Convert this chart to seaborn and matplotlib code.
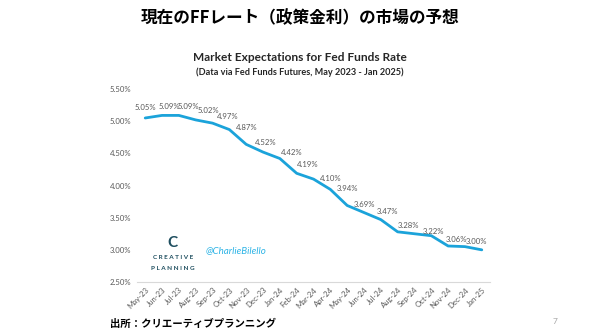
import matplotlib
matplotlib.use("Agg")
import matplotlib.pyplot as plt
import seaborn as sns
import pandas as pd

months = ["May-23", "Jun-23", "Jul-23", "Aug-23", "Sep-23", "Oct-23", "Nov-23",
          "Dec-23", "Jan-24", "Feb-24", "Mar-24", "Apr-24", "May-24", "Jun-24",
          "Jul-24", "Aug-24", "Sep-24", "Oct-24", "Nov-24", "Dec-24", "Jan-25"]
rates = [5.05, 5.09, 5.09, 5.02, 4.97, 4.87, 4.64,
         4.52, 4.42, 4.19, 4.10, 3.94, 3.69, 3.58,
         3.47, 3.28, 3.25, 3.22, 3.06, 3.05, 3.00]
labeled = [True, True, True, True, True, True, False,
           True, True, True, True, True, True, False,
           True, True, False, True, True, False, True]
yticks = [2.5, 3.0, 3.5, 4.0, 4.5, 5.0, 5.5]

page_title = "現在のFFレート（政策金利）の市場の予想"
chart_title = "Market Expectations for Fed Funds Rate"
chart_sub = "(Data via Fed Funds Futures, May 2023 - Jan 2025)"
source = "出所：クリエーティブプランニング"

# data-label placement (pixel offsets from each point, as in the reference)
label_dx = [0, 7, 10, 13, 15, 17, 0, 3, 12, 11, 17, 17, 17, 0, 7, 11, 0, 2, 8, 0, -5]
label_dy = [9, 8, 8, 8, 6, 1, 0, 9, 5, 8, 0, 0, 0, 0, 7, 5, 0, 3, 5, 0, 7]

df = pd.DataFrame({"month": months, "rate": rates})

sns.set_theme(style="white")
plt.rcParams["font.family"] = ["Lato", "Noto Sans CJK JP", "DejaVu Sans"]

fig = plt.figure(figsize=(6.0, 3.31), dpi=100)
ax = fig.add_axes([0.228, 0.148, 0.589, 0.583])

line_color = "#1BA3DA"
gray = "#595959"
sns.lineplot(data=df, x="month", y="rate", ax=ax, color=line_color, linewidth=2.0, sort=False)

for i, (v, show) in enumerate(zip(rates, labeled)):
    if show:
        ax.annotate(f"{v:.2f}%", (i, v), xytext=(label_dx[i], label_dy[i] + 1),
                    textcoords="offset pixels", ha="center", va="center",
                    fontsize=5.6, color=gray)

ax.set_ylim(2.5, 5.5)
ax.set_xlim(-0.5, len(months) - 0.5)
ax.set_yticks(yticks)
ax.set_yticklabels([f"{t:.2f}%" for t in yticks])
ax.set_xticks(range(len(months)))
ax.set_xticklabels(months, rotation=45, ha="right", rotation_mode="anchor")
ax.tick_params(axis="both", labelsize=5.6, colors=gray, length=0, pad=3)
ax.tick_params(axis="y", pad=4)
ax.set_xlabel("")
ax.set_ylabel("")
for s in ["top", "right", "left"]:
    ax.spines[s].set_visible(False)
ax.spines["bottom"].set_color("#D9D9D9")
ax.spines["bottom"].set_linewidth(0.8)
ax.grid(False)

fig.text(0.5, 0.945, page_title, ha="center", va="center", fontsize=12, fontweight="bold",
         family=["Noto Sans CJK JP", "DejaVu Sans"], color="#000000")
fig.text(0.5, 0.826, chart_title, ha="center", va="center", fontsize=8.6, fontweight="bold", color="#262626")
fig.text(0.5, 0.781, chart_sub, ha="center", va="center", fontsize=6.6, fontweight="bold", color="#262626")

# branding
fig.text(0.288, 0.267, "C", ha="center", va="center", fontsize=11, fontweight="bold", color="#1E4E5F")
fig.text(0.288, 0.222, "C R E A T I V E", ha="center", va="center", fontsize=4.6, fontweight="bold", color="#1E4E5F")
fig.text(0.288, 0.19, "P L A N N I N G", ha="center", va="center", fontsize=4.6, fontweight="bold", color="#1E4E5F")
fig.text(0.343, 0.242, "@CharlieBilello", ha="left", va="center", fontsize=7, style="italic", color="#2EB4E6")

fig.text(0.183, 0.022, source, ha="left", va="center", fontsize=7.5, fontweight="bold",
         family=["Noto Sans CJK JP", "DejaVu Sans"], color="#000000")
fig.text(0.925, 0.03, "7", ha="center", va="center", fontsize=6, color="#A6A6A6")

fig.savefig("out.png", dpi=100)
